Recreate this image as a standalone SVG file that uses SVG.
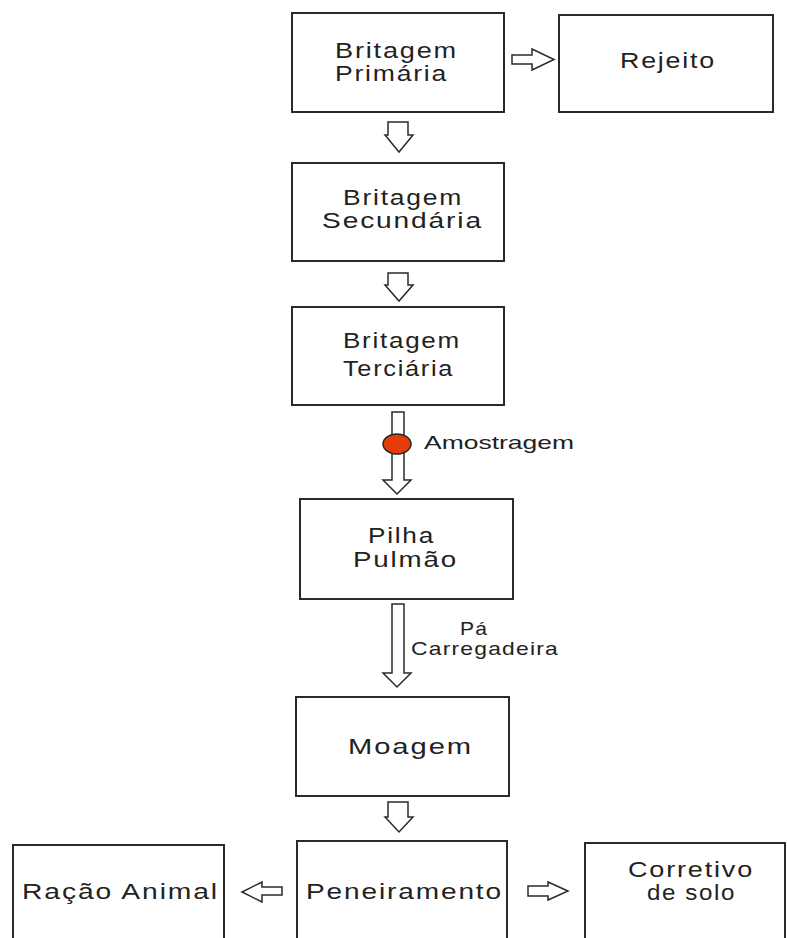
<svg xmlns="http://www.w3.org/2000/svg" width="787" height="938" viewBox="0 0 787 938">
<style>
.box{fill:#fff;stroke:#2a2a2a;stroke-width:2}
.arr{fill:#fff;stroke:#2a2a2a;stroke-width:1.5;stroke-linejoin:miter}
text{font-family:"Liberation Sans",Arial,sans-serif;font-size:22.5px;fill:#222;letter-spacing:1.5px}
.sm{font-size:19px;letter-spacing:1px}
.am{font-size:19px;letter-spacing:0}
</style>
<rect width="787" height="938" fill="#fff"/>
<g id="connectors">
<path class="arr" d="M512,55 H532 V49 L554,59.5 L532,70 V64 H512 Z"/>
<path class="arr" d="M388,122 H408 V135 H413 L399,152 L385,135 H388 Z"/>
<path class="arr" d="M388,273 H408 V285 H413 L399,301 L385,285 H388 Z"/>
<path class="arr" d="M392,412 H404 V480 H411 L397,494 L383,480 H392 Z"/>
<path class="arr" d="M392,604 H404 V673 H411 L397,687 L383,673 H392 Z"/>
<path class="arr" d="M388,802 H408 V817 H413 L399,832 L385,817 H388 Z"/>
<path class="arr" d="M282,887 H262 V882 L242,892 L262,902 V895 H282 Z"/>
<path class="arr" d="M528,886 H548 V882 L568,891 L548,900 V896 H528 Z"/>
</g>
<g id="amostragem">
<ellipse cx="397" cy="444" rx="14" ry="10" fill="#e63c0a" stroke="#2a2a2a" stroke-width="1.5"/>
<text class="am" x="424" y="449" textLength="150" lengthAdjust="spacingAndGlyphs">Amostragem</text>
</g>
<g id="pa-carregadeira">
<text class="sm" x="460" y="635" textLength="28" lengthAdjust="spacingAndGlyphs">Pá</text>
<text class="sm" x="411" y="655" textLength="148" lengthAdjust="spacingAndGlyphs">Carregadeira</text>
</g>
<g id="britagem-primaria">
<rect class="box" x="292" y="13" width="212" height="99"/>
<text x="335" y="58" textLength="123" lengthAdjust="spacingAndGlyphs">Britagem</text>
<text x="335" y="81" textLength="113" lengthAdjust="spacingAndGlyphs">Primária</text>
</g>
<g id="rejeito">
<rect class="box" x="559" y="15" width="214" height="97"/>
<text x="620" y="68" textLength="96" lengthAdjust="spacingAndGlyphs">Rejeito</text>
</g>
<g id="britagem-secundaria">
<rect class="box" x="292" y="163" width="212" height="98"/>
<text x="343" y="205" textLength="120" lengthAdjust="spacingAndGlyphs">Britagem</text>
<text x="322" y="228" textLength="161" lengthAdjust="spacingAndGlyphs">Secundária</text>
</g>
<g id="britagem-terciaria">
<rect class="box" x="292" y="307" width="212" height="98"/>
<text x="343" y="348" textLength="118" lengthAdjust="spacingAndGlyphs">Britagem</text>
<text x="343" y="376" textLength="111" lengthAdjust="spacingAndGlyphs">Terciária</text>
</g>
<g id="pilha-pulmao">
<rect class="box" x="300" y="499" width="213" height="100"/>
<text x="368" y="543" textLength="67" lengthAdjust="spacingAndGlyphs">Pilha</text>
<text x="353" y="567" textLength="105" lengthAdjust="spacingAndGlyphs">Pulmão</text>
</g>
<g id="moagem">
<rect class="box" x="296" y="697" width="213" height="99"/>
<text x="348" y="754" textLength="125" lengthAdjust="spacingAndGlyphs">Moagem</text>
</g>
<g id="peneiramento">
<rect class="box" x="297" y="841" width="210" height="110"/>
<text x="306" y="899" textLength="197" lengthAdjust="spacingAndGlyphs">Peneiramento</text>
</g>
<g id="racao-animal">
<rect class="box" x="13" y="845" width="211" height="106"/>
<text x="22" y="899" textLength="197" lengthAdjust="spacingAndGlyphs">Ração Animal</text>
</g>
<g id="corretivo-de-solo">
<rect class="box" x="585" y="843" width="200" height="108"/>
<text x="628" y="877" textLength="126" lengthAdjust="spacingAndGlyphs">Corretivo</text>
<text x="647" y="900" textLength="89" lengthAdjust="spacingAndGlyphs">de solo</text>
</g>
</svg>
